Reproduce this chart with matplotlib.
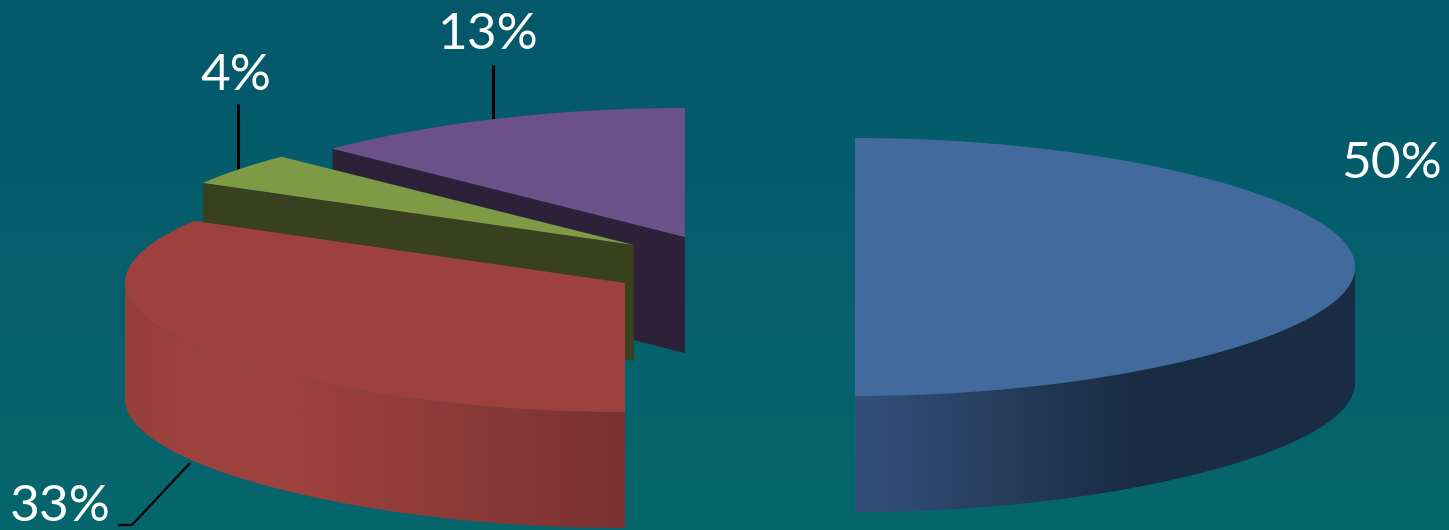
import numpy as np
import matplotlib
matplotlib.use('Agg')
import matplotlib.pyplot as plt
from matplotlib.colors import LinearSegmentedColormap
from matplotlib.patches import Polygon

# share of each slice, clockwise from 12 o'clock
shares = [50, 33, 4, 13]
labels = ['50%', '33%', '4%', '13%']

# exploded centre of each slice, in image pixels
centres = [(855, 267), (625, 283), (634, 245), (685, 237)]
top_colors = ['#426a9c', '#9e413e', '#7f9a45', '#6b5188']
wall_colors = [None, None, '#38401e', '#2c2139']

RX, RY, DEPTH = 500, 129, 116
W, H = 1449, 530


def rim(cx, cy, a0, a1, n=200):
    # points on the slice edge, angles in degrees clockwise from the top
    t = np.radians(np.linspace(a0, a1, n))
    squeeze = 1 - 0.07 * np.cos(t) ** 2  # back of the pie is a bit narrower
    return np.column_stack([cx + RX * np.sin(t) * squeeze, cy - RY * np.cos(t)])


def gradient_rim(pts, stops, zorder):
    side = np.vstack([pts, (pts + [0, DEPTH])[::-1]])
    patch = Polygon(side, closed=True, fc='none', ec='none', zorder=zorder)
    ax.add_patch(patch)
    x0, x1 = side[:, 0].min(), side[:, 0].max()
    y0, y1 = side[:, 1].min(), side[:, 1].max()
    cmap = LinearSegmentedColormap.from_list('rim', stops)
    im = ax.imshow(np.linspace(0, 1, 256)[None, :], cmap=cmap, aspect='auto',
                   extent=(x0, x1, y1, y0), zorder=zorder)
    im.set_clip_path(patch)


fig = plt.figure(figsize=(W / 100, H / 100), dpi=100)
ax = fig.add_axes([0, 0, 1, 1])

# background
bg = LinearSegmentedColormap.from_list('bg', ['#04586a', '#06666d'])
ax.imshow(np.linspace(0, 1, 256)[:, None], cmap=bg, aspect='auto',
          extent=(0, W, H, 0), zorder=0)

# slice angles from the shares
ends = np.cumsum(shares) / sum(shares) * 360
starts = np.r_[0, ends[:-1]]

# leader lines sit under the slices
ax.plot([238, 238], [104, 172], color='black', lw=2.2, zorder=1, solid_capstyle='butt')
ax.plot([493, 493], [65, 122], color='black', lw=2.2, zorder=1, solid_capstyle='butt')
ax.plot([190, 132, 118], [463, 525, 525], color='black', lw=1.6, zorder=1, solid_capstyle='butt')

# back to front: purple, green, red, blue
rim_stops = {
    0: [(0, '#34507a'), (0.55, '#1a2c44'), (1, '#1a2c44')],
    1: [(0, '#953f3c'), (0.1, '#9e413e'), (0.35, '#9d413e'), (0.6, '#903c3a'), (1, '#793231')],
}
for z, i in enumerate([3, 2, 1, 0]):
    cx, cy = centres[i]
    a0, a1 = starts[i], ends[i]
    base = 2 + z * 3
    arc = rim(cx, cy, a0, a1)

    # cut face turned towards the viewer (only the two small back slices)
    if wall_colors[i]:
        corner = arc[0]
        wall = [(cx, cy), corner, corner + [0, DEPTH], (cx, cy + DEPTH)]
        ax.add_patch(Polygon(wall, closed=True, fc=wall_colors[i], ec='none', zorder=base))

    # curved outer side, front part only
    if i in rim_stops:
        lo, hi = max(a0, 90), min(a1, 270)
        gradient_rim(rim(cx, cy, lo, hi), rim_stops[i], base + 1)

    ax.add_patch(Polygon(np.vstack([[(cx, cy)], arc]), closed=True,
                         fc=top_colors[i], ec='none', zorder=base + 2))

# labels
txt = dict(color='white', family='Lato', fontsize=37, ha='center', va='baseline', zorder=20)
ax.text(1392, 178, labels[0], **txt)
ax.text(60, 521, labels[1], **txt)
ax.text(236, 90, labels[2], **txt)
ax.text(488, 49, labels[3], **txt)

ax.set_xlim(0, W)
ax.set_ylim(H, 0)
ax.axis('off')

fig.savefig('out.png', dpi=100)
